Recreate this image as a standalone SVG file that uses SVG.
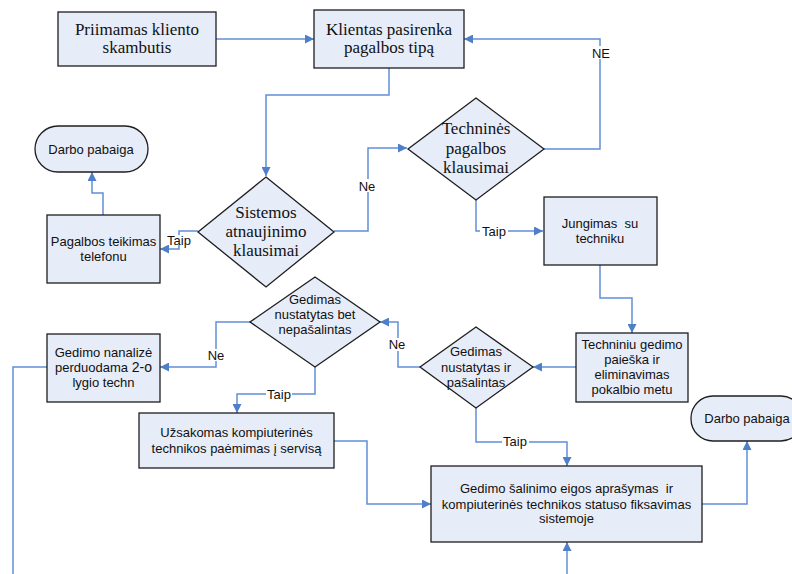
<svg xmlns="http://www.w3.org/2000/svg" width="792" height="574" viewBox="0 0 792 574">
  <defs>
    <marker id="arrow" viewBox="0 0 10 10" refX="10" refY="5" markerWidth="9" markerHeight="9" markerUnits="userSpaceOnUse" orient="auto">
      <path d="M0,0 L10,5 L0,10 z" fill="#4F7FC8"/>
    </marker>
  </defs>
  <style>
    .box { fill: #E6ECF8; stroke: #1E1E1E; stroke-width: 1.3; }
    .serif { font-family: "Liberation Serif", "Times New Roman", serif; font-size: 17px; fill: #111; text-anchor: middle; }
    .sans { font-family: "Liberation Sans", Arial, sans-serif; font-size: 13px; fill: #111; text-anchor: middle; }
    .lbl { font-family: "Liberation Sans", Arial, sans-serif; font-size: 13px; fill: #111; text-anchor: middle; }
    .conn { fill: none; stroke: #6090D6; stroke-width: 1.5; }
    .bg { fill: #FFFFFF; }
  </style>

  <rect width="792" height="574" fill="#FFFFFF"/>

  <!-- connectors -->
  <g id="connectors">
    <path class="conn" d="M216,39 L314,39" marker-end="url(#arrow)"/>
    <path class="conn" d="M389,68 L389,95 L266,95 L266,176" marker-end="url(#arrow)"/>
    <path class="conn" d="M103,215 L103,193 L92,193 L92,172" marker-end="url(#arrow)"/>
    <path class="conn" d="M198,231 L179,231 L179,249 L160,249" marker-end="url(#arrow)"/>
    <path class="conn" d="M334,231 L368,231 L368,148 L407,148" marker-end="url(#arrow)"/>
    <path class="conn" d="M544,149 L600,149 L600,39 L464,39" marker-end="url(#arrow)"/>
    <path class="conn" d="M476,199 L476,231 L543,231" marker-end="url(#arrow)"/>
    <path class="conn" d="M600,265 L600,298 L632,298 L632,333" marker-end="url(#arrow)"/>
    <path class="conn" d="M576,367 L533,367" marker-end="url(#arrow)"/>
    <path class="conn" d="M420,367 L398,367 L398,322 L380,322" marker-end="url(#arrow)"/>
    <path class="conn" d="M250,322 L216,322 L216,367 L160,367" marker-end="url(#arrow)"/>
    <path class="conn" d="M47,367 L13,367 L13,574"/>
    <path class="conn" d="M315,367 L315,394 L237,394 L237,413" marker-end="url(#arrow)"/>
    <path class="conn" d="M334,441 L367,441 L367,504 L431,504" marker-end="url(#arrow)"/>
    <path class="conn" d="M476,407 L476,442 L567,442 L567,466" marker-end="url(#arrow)"/>
    <path class="conn" d="M567,574 L567,542" marker-end="url(#arrow)"/>
    <path class="conn" d="M702,504 L747,504 L747,441" marker-end="url(#arrow)"/>

    <!-- labels -->
    <rect class="bg" x="166" y="235" width="26" height="10"/>
    <text class="lbl" x="179" y="245">Taip</text>
    <rect class="bg" x="359" y="179" width="17" height="13"/>
    <text class="lbl" x="367" y="191">Ne</text>
    <rect class="bg" x="591" y="46" width="20" height="13"/>
    <text class="lbl" x="601" y="58">NE</text>
    <rect class="bg" x="480" y="225" width="28" height="13"/>
    <text class="lbl" x="494" y="236">Taip</text>
    <rect class="bg" x="389" y="338" width="17" height="13"/>
    <text class="lbl" x="397" y="349">Ne</text>
    <rect class="bg" x="207" y="349" width="18" height="12"/>
    <text class="lbl" x="216" y="360">Ne</text>
    <rect class="bg" x="266" y="388" width="26" height="13"/>
    <text class="lbl" x="279" y="399">Taip</text>
    <rect class="bg" x="502" y="435" width="27" height="13"/>
    <text class="lbl" x="515" y="446">Taip</text>
  </g>

  <g id="node-skambutis">
    <rect class="box" x="58" y="12" width="158" height="54"/>
    <text class="serif" x="137" y="35">Priimamas kliento</text>
    <text class="serif" x="137" y="53">skambutis</text>
  </g>

  <g id="node-tipas">
    <rect class="box" x="314" y="10" width="150" height="58"/>
    <text class="serif" x="389" y="35">Klientas pasirenka</text>
    <text class="serif" x="389" y="53">pagalbos tipą</text>
  </g>

  <g id="node-pabaiga-1">
    <rect class="box" x="35" y="126" width="113" height="46" rx="23" ry="23"/>
    <text class="sans" x="91" y="154">Darbo pabaiga</text>
  </g>

  <g id="node-telefonu">
    <rect class="box" x="47" y="215" width="113" height="68"/>
    <text class="sans" x="103.5" y="246">Pagalbos teikimas</text>
    <text class="sans" x="103.5" y="261">telefonu</text>
  </g>

  <g id="node-sistemos">
    <polygon class="box" points="266,177 334,232 266,287 198,232"/>
    <text class="serif" x="266" y="218">Sistemos</text>
    <text class="serif" x="266" y="237">atnaujinimo</text>
    <text class="serif" x="266" y="256">klausimai</text>
  </g>

  <g id="node-technines">
    <polygon class="box" points="476,98 544,149 476,200 408,149"/>
    <text class="serif" x="476" y="134">Techninės</text>
    <text class="serif" x="476" y="154">pagalbos</text>
    <text class="serif" x="476" y="173">klausimai</text>
  </g>

  <g id="node-jungimas">
    <rect class="box" x="544" y="197" width="113" height="68"/>
    <text class="sans" x="600" y="228" xml:space="preserve">Jungimas  su</text>
    <text class="sans" x="600" y="243">techniku</text>
  </g>

  <g id="node-paieska">
    <rect class="box" x="576" y="333" width="112" height="69"/>
    <text class="sans" x="632" y="349">Techniniu gedimo</text>
    <text class="sans" x="632" y="364">paieška ir</text>
    <text class="sans" x="632" y="379">eliminavimas</text>
    <text class="sans" x="632" y="394">pokalbio metu</text>
  </g>

  <g id="node-pasalintas">
    <polygon class="box" points="476,327 533,367 476,408 420,367"/>
    <text class="sans" x="476" y="356">Gedimas</text>
    <text class="sans" x="476" y="372">nustatytas ir</text>
    <text class="sans" x="476" y="387">pašalintas</text>
  </g>

  <g id="node-nepasalintas">
    <polygon class="box" points="315,277 380,322 315,367 250,322"/>
    <text class="sans" x="315" y="304">Gedimas</text>
    <text class="sans" x="315" y="319">nustatytas bet</text>
    <text class="sans" x="315" y="334">nepašalintas</text>
  </g>

  <g id="node-analize">
    <rect class="box" x="47" y="334" width="113" height="68"/>
    <text class="sans" x="103.5" y="357">Gedimo nanalizė</text>
    <text class="sans" x="103.5" y="372">perduodama <tspan font-size="14">2-o</tspan></text>
    <text class="sans" x="103.5" y="387">lygio techn</text>
  </g>

  <g id="node-servisas">
    <rect class="box" x="139" y="413" width="195" height="55"/>
    <text class="sans" x="236.5" y="437">Užsakomas kompiuterinės</text>
    <text class="sans" x="236.5" y="453">technikos paėmimas į servisą</text>
  </g>

  <g id="node-fiksavimas">
    <rect class="box" x="431" y="466" width="271" height="76"/>
    <text class="sans" x="566.5" y="493" xml:space="preserve">Gedimo šalinimo eigos aprašymas  ir</text>
    <text class="sans" x="566.5" y="509">kompiuterinės technikos statuso fiksavimas</text>
    <text class="sans" x="566.5" y="523">sistemoje</text>
  </g>

  <g id="node-pabaiga-2">
    <rect class="box" x="691" y="396" width="112" height="45" rx="22" ry="22"/>
    <text class="sans" x="747" y="423">Darbo pabaiga</text>
  </g>
</svg>
